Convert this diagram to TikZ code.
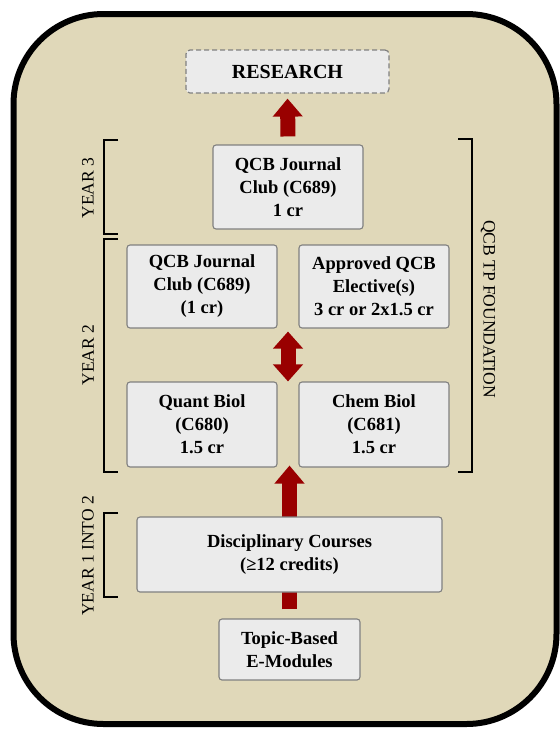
\documentclass[tikz,border=0pt]{standalone}
\usepackage{fontspec}
\setmainfont{Liberation Serif}
\usetikzlibrary{arrows.meta}
\definecolor{tanbg}{RGB}{224,216,185}
\definecolor{boxfill}{RGB}{235,235,235}
\definecolor{boxline}{RGB}{128,128,128}
\definecolor{arrowred}{RGB}{153,0,0}
\tikzset{
  course/.style={draw=boxline, line width=1.1pt, fill=boxfill, rounded corners=3pt,
    align=center, inner sep=0pt, font=\bfseries\fontsize{18.5}{23}\selectfont},
  researchbox/.style={draw=boxline, line width=1.2pt, dash pattern=on 5pt off 3pt, fill=boxfill, rounded corners=4pt,
    inner sep=0pt, font=\bfseries\fontsize{20}{24}\selectfont},
  bigarrow/.style={draw=arrowred, line width=15pt, -{Triangle[width=29pt,length=18pt]}},
  dblarrow/.style={draw=arrowred, line width=15pt, {Triangle[width=29pt,length=17pt]}-{Triangle[width=29pt,length=17pt]}},
  bracketline/.style={draw=black, line width=1.4pt},
  sidelabel/.style={font=\fontsize{17.5}{20}\selectfont, inner sep=0pt}
}
\begin{document}
\begin{tikzpicture}[x=1pt,y=-1pt]
\useasboundingbox (0,0) rectangle (560,729);
% outer panel
\draw[line width=6pt, fill=tanbg, rounded corners=90pt] (13.5,14) rectangle (556.5,724);
% nodes
\node[researchbox, minimum width=203pt, minimum height=43pt] (research) at (287.5,71.5) {RESEARCH};
\node[course, minimum width=150pt, minimum height=84pt] (jc3) at (288,187) {QCB Journal\\Club (C689)\\1 cr};
\node[course, minimum width=150pt, minimum height=83pt] (jc2) at (202,286.5) {QCB Journal\\Club (C689)\\(1 cr)};
\node[course, minimum width=150pt, minimum height=83pt] (elect) at (374,286.5) {Approved QCB\\Elective(s)\\3 cr or 2x1.5 cr};
\node[course, minimum width=150pt, minimum height=85pt] (quant) at (202,424.5) {Quant Biol\\(C680)\\1.5 cr};
\node[course, minimum width=150pt, minimum height=85pt] (chem) at (374,424.5) {Chem Biol\\(C681)\\1.5 cr};
\node[course, minimum width=141pt, minimum height=61pt] (topic) at (289.5,649.5) {Topic-Based\\E-Modules};
% arrows
\draw[bigarrow, shorten <=8pt, shorten >=5pt] (jc3.north) -- (research.south);
\draw[dblarrow, shorten <=3pt] (jc3.south |- jc2.south) -- (jc3.south |- quant.north);
\draw[bigarrow, shorten <=9pt, shorten >=-2pt] (topic.north) -- (topic.north |- quant.south);
\node[course, minimum width=305pt, minimum height=75pt] (disc) at (289.5,554.5) {Disciplinary Courses\\(≥12 credits)};
% brackets
\draw[bracketline] (118,140) -- (104,140) -- (104,234) -- (118,234);
\draw[bracketline] (118,239) -- (104,239) -- (104,472) -- (118,472);
\draw[bracketline] (118,513) -- (104,513) -- (104,597) -- (118,597);
\draw[bracketline] (458,139) -- (472,139) -- (472,472) -- (458,472);
% side labels
\node[sidelabel, rotate=90] (y3) at (88,188) {YEAR 3};
\node[sidelabel, rotate=90] (y2) at (88,355) {YEAR 2};
\node[sidelabel, rotate=90] (y1) at (88,556) {YEAR 1 INTO 2};
\node[sidelabel, rotate=-90] (found) at (488,309) {QCB TP FOUNDATION};
\end{tikzpicture}
\end{document}
